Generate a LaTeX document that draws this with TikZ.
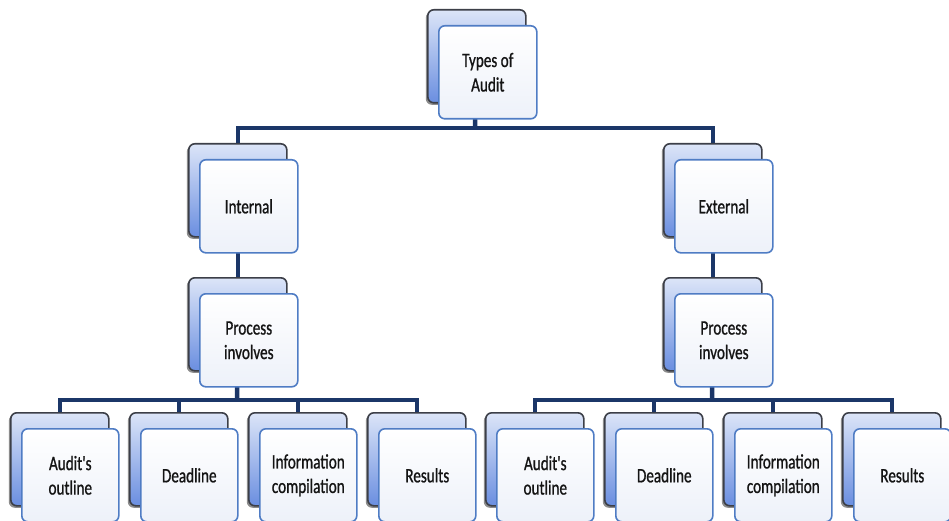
\documentclass[tikz,border=0pt]{standalone}
\usepackage{fontspec}
\newfontfamily\boxfont[FakeStretch=0.74,FakeBold=0.9]{Carlito}
\usetikzlibrary{backgrounds,shadows}
\definecolor{navy}{HTML}{1B3668}
\definecolor{backtop}{HTML}{DCE5F8}
\definecolor{backbot}{HTML}{6A8EE0}
\definecolor{backedge}{HTML}{3C3F48}
\definecolor{frontedge}{HTML}{4F7CC4}
\definecolor{fronttop}{HTML}{FFFFFF}
\definecolor{frontbot}{HTML}{EDF1F9}
\definecolor{txt}{HTML}{141414}
\tikzset{
  backbox/.style={draw=backedge, line width=1.6pt, rounded corners=6pt,
    top color=backtop, bottom color=backbot, minimum width=98pt, minimum height=93pt,
    anchor=north west, inner sep=0pt,
    drop shadow={shadow xshift=-2pt, shadow yshift=-2pt, opacity=0.45, fill=black}},
  frontbox/.style={draw=frontedge, line width=1.6pt, rounded corners=6pt,
    top color=fronttop, bottom color=frontbot, minimum width=98pt, minimum height=93pt,
    anchor=north west, inner sep=2pt, align=center, text=txt,
    font=\boxfont\fontsize{20.5}{24.5}\selectfont},
  conn/.style={draw=navy, line width=4.5pt}
}
\begin{document}
\begin{tikzpicture}[x=1pt,y=-1pt]
\useasboundingbox (0,0) rectangle (949,521);
% back boxes
\node[backbox] (topb) at (427,9) {};
\node[backbox] (intb) at (188,143) {};
\node[backbox] (extb) at (663,143) {};
\node[backbox] (plb) at (188,277) {};
\node[backbox] (prb) at (663,277) {};
\foreach \n/\x in {l1/10,l2/129,l3/248,l4/367,r1/485,r2/604,r3/723,r4/842}{
  \node[backbox] (\n b) at (\x,412) {};
}
% front boxes
\node[frontbox] (topf) at (438,25) {Types of\\Audit};
\node[frontbox] (intf) at (199,159) {Internal};
\node[frontbox] (extf) at (674,159) {External};
\node[frontbox] (plf) at (199,293) {Process\\involves};
\node[frontbox] (prf) at (674,293) {Process\\involves};
\foreach \n/\x/\t in {l1/10/{Audit's\\outline},l2/129/Deadline,l3/248/{Information\\compilation},l4/367/Results,
                      r1/485/{Audit's\\outline},r2/604/Deadline,r3/723/{Information\\compilation},r4/842/Results}{
  \node[frontbox, minimum width=97pt] (\n f) at (\x+11,428) {\t};
}
% connectors
\coordinate (j1) at (475,128);
\coordinate (j2) at (237,400);
\coordinate (j3) at (712,400);
\begin{pgfonlayer}{background}
\draw[conn] (topb.center) -- (j1);
\draw[conn] (j1) -| (intb.center);
\draw[conn] (j1) -| (extb.center);
\draw[conn] (intb.center) -- (plb.center);
\draw[conn] (extb.center) -- (prb.center);
\draw[conn] (plb.center) -- (j2);
\draw[conn] (prb.center) -- (j3);
\foreach \n in {l1,l2,l3,l4}{\draw[conn] (j2) -| (\n b.center);}
\foreach \n in {r1,r2,r3,r4}{\draw[conn] (j3) -| (\n b.center);}
\end{pgfonlayer}
\end{tikzpicture}
\end{document}
